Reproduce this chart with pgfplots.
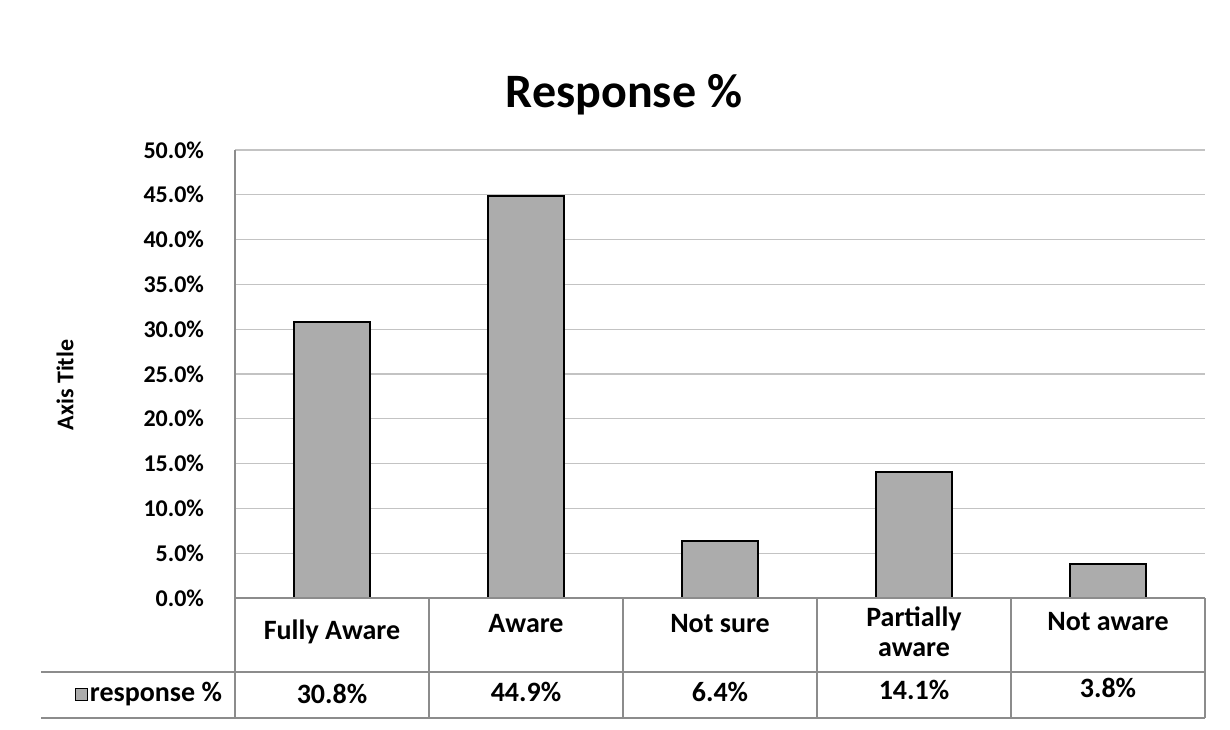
\documentclass[border=0pt]{standalone}
\usepackage{fontspec}
\setmainfont{Carlito}
\usepackage{pgfplots}
\pgfplotsset{compat=1.18}
\definecolor{bargray}{RGB}{172,172,172}
\definecolor{gridgray}{RGB}{195,195,195}
\definecolor{tabgray}{RGB}{140,140,140}
\begin{document}
\begin{tikzpicture}[x=1pt,y=1pt]
\useasboundingbox (0,0) rectangle (615,364.5);
\node[font=\fontsize{24}{28}\selectfont\bfseries] at (312,317) {Response \%};
\node[font=\fontsize{12}{14}\selectfont\bfseries, rotate=90] at (32.5,172) {Axis Title};
\begin{axis}[
  at={(117.5pt,65.5pt)}, anchor=south west,
  scale only axis, width=485pt, height=224pt,
  xmin=-0.5, xmax=4.5, ymin=0, ymax=50,
  hide x axis,
  axis y line*=left, y axis line style={draw=none},
  ytick={0,5,...,50},
  yticklabel={\pgfmathprintnumber[fixed,fixed zerofill,precision=1]{\tick}\%},
  /pgf/number format/assume math mode=true,
  tick label style={font=\fontsize{12}{14}\selectfont\bfseries},
  major tick length=0pt,
  yticklabel style={xshift=-12pt},
  ymajorgrids, grid style={gridgray, line width=0.6pt},
  clip=false,
]
\addplot[ybar, bar width=38pt, fill=bargray, draw=black, line width=1pt] coordinates {(0,30.8) (1,44.9) (2,6.4) (3,14.1) (4,3.8)};
\coordinate (O) at (axis cs:-0.5,0);
\coordinate (T) at (axis cs:-0.5,50);
\coordinate (R) at (axis cs:4.5,0);
\end{axis}
\begin{scope}[tabgray, line width=0.6pt]
\draw (T) -- (O) -- (R);
\draw (O) -- ++(0,-60);
\foreach \i in {1,...,5} { \draw ([xshift=\i*97pt]O) -- ++(0,-60); }
\draw ([yshift=-37pt,xshift=-97pt]O) -- ([yshift=-37pt]R);
\draw ([yshift=-60pt,xshift=-97pt]O) -- ([yshift=-60pt]R);
\end{scope}
\begin{scope}[every node/.style={font=\fontsize{14}{15}\selectfont\bfseries, align=center}]
\node at ([xshift=48.5pt,yshift=-17pt]O) {Fully Aware};
\node at ([xshift=145.5pt,yshift=-13pt]O) {Aware};
\node at ([xshift=242.5pt,yshift=-13pt]O) {Not sure};
\node at ([xshift=339.5pt,yshift=-17pt]O) {Partially\\aware};
\node at ([xshift=436.5pt,yshift=-12pt]O) {Not aware};
\node at ([xshift=48.5pt,yshift=-48pt]O) {30.8\%};
\node at ([xshift=145.5pt,yshift=-47pt]O) {44.9\%};
\node at ([xshift=242.5pt,yshift=-47pt]O) {6.4\%};
\node at ([xshift=339.5pt,yshift=-46pt]O) {14.1\%};
\node at ([xshift=436.5pt,yshift=-45pt]O) {3.8\%};
\node[anchor=east] at ([yshift=-48pt,xshift=-3pt]O) {response \%};
\end{scope}
\fill[bargray, draw=black, line width=0.5pt] ([yshift=-51pt,xshift=-80pt]O) rectangle ++(6pt,6pt);
\end{tikzpicture}
\end{document}
